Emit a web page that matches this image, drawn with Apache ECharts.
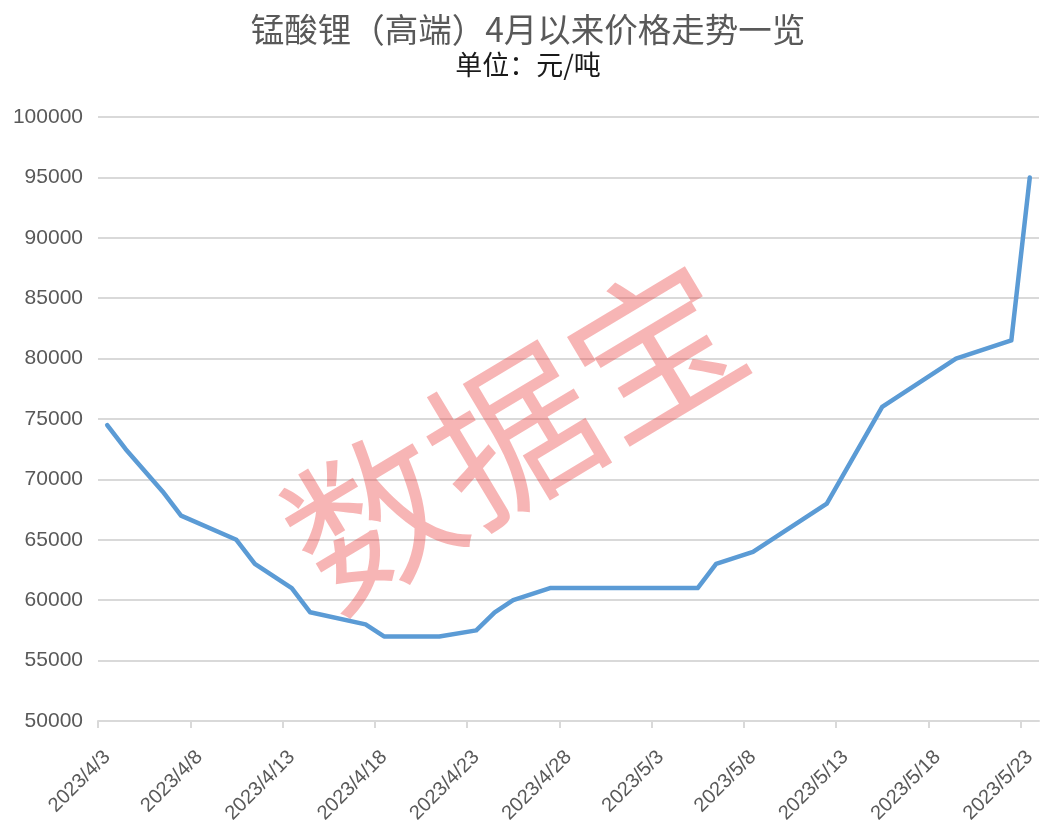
<!DOCTYPE html>
<html>
<head>
<meta charset="utf-8">
<script src="https://cdn.jsdelivr.net/npm/echarts@6/dist/echarts.min.js"></script>
<style>
html,body{margin:0;padding:0;background:#fff;}
#chart{width:1056px;height:840px;}
</style>
</head>
<body>
<div id="chart"></div>
<script>
const titleText = '锰酸锂（高端）4月以来价格走势一览';
const subtitleText = '单位：元/吨';
const watermarkText = '数据宝';
const startDate = '2023/4/3';
const endDate = '2023/5/24';
const dates = ['2023/4/3','2023/4/4','2023/4/6','2023/4/7','2023/4/10','2023/4/11','2023/4/13','2023/4/14','2023/4/17','2023/4/18','2023/4/21','2023/4/23','2023/4/24','2023/4/25','2023/4/27','2023/5/5','2023/5/6','2023/5/8','2023/5/12','2023/5/15','2023/5/19','2023/5/22','2023/5/23'];
const prices = [74500,72500,69000,67000,65000,63000,61000,59000,58000,57000,57000,57500,59000,60000,61000,61000,63000,64000,68000,76000,80000,81500,95000];
const tickLabels = ['2023/4/3','2023/4/8','2023/4/13','2023/4/18','2023/4/23','2023/4/28','2023/5/3','2023/5/8','2023/5/13','2023/5/18','2023/5/23'];
const yMin = 50000, yMax = 100000, yStep = 5000;

function toUTC(s){ const p = s.split('/').map(Number); return Date.UTC(p[0], p[1]-1, p[2]); }
const base = toUTC(startDate);
function dayIndex(s){ return Math.round((toUTC(s) - base) / 864e5); }

const seriesData = dates.map((d, i) => [dayIndex(d) + 0.5, prices[i]]);
const tickPos = tickLabels.map(dayIndex);
const labelPos = tickLabels.map(d => dayIndex(d) + 0.5);

const chart = echarts.init(document.getElementById('chart'), null, {renderer: 'canvas'});
const gray = '#595959';
const fontLatin = 'Helvetica, Arial, "Liberation Sans", sans-serif';
const fontCJK = '"Noto Sans CJK SC", sans-serif';

chart.setOption({
  backgroundColor: '#ffffff',
  animation: false,
  title: {
    text: titleText,
    subtext: subtitleText,
    left: 'center',
    top: 8,
    itemGap: 5,
    textStyle: {fontFamily: fontCJK, fontSize: 33.5, fontWeight: 'normal', color: gray},
    subtextStyle: {fontFamily: fontCJK, fontSize: 27, color: '#1a1a1a'}
  },
  grid: {left: 98, right: 17, top: 117, bottom: 119, containLabel: false},
  xAxis: {
    type: 'value',
    min: 0,
    max: dayIndex(endDate),
    interval: 5,
    splitLine: {show: false},
    axisLine: {show: true, lineStyle: {color: '#d9d9d9', width: 2}},
    axisTick: {show: true, length: 7, lineStyle: {color: '#d9d9d9', width: 2}, customValues: tickPos},
    axisLabel: {
      customValues: labelPos,
      rotate: 45,
      margin: 33,
      fontSize: 20,
      fontFamily: fontLatin,
      color: gray,
      formatter: function (v) {
        const idx = labelPos.findIndex(p => Math.abs(p - v) < 1e-6);
        return idx >= 0 ? tickLabels[idx] : '';
      }
    }
  },
  yAxis: {
    type: 'value',
    min: yMin,
    max: yMax,
    interval: yStep,
    axisLine: {show: false},
    axisTick: {show: false},
    splitLine: {show: true, lineStyle: {color: '#d9d9d9', width: 2}},
    axisLabel: {fontSize: 21, fontFamily: fontLatin, color: gray, margin: 15, formatter: function (v) { return String(v); }}
  },
  graphic: [{
    type: 'text',
    x: 513,
    y: 434,
    rotation: 31 * Math.PI / 180,
    z: 1,
    style: {
      text: watermarkText,
      font: '165px "Noto Sans CJK SC"',
      fill: 'rgba(235, 60, 60, 0.38)',
      align: 'center',
      verticalAlign: 'middle'
    }
  }],
  series: [{
    type: 'line',
    data: seriesData,
    showSymbol: false,
    symbol: 'none',
    z: 3,
    lineStyle: {color: '#5b9bd5', width: 4.5, cap: 'round', join: 'round'}
  }]
});
</script>
</body>
</html>
